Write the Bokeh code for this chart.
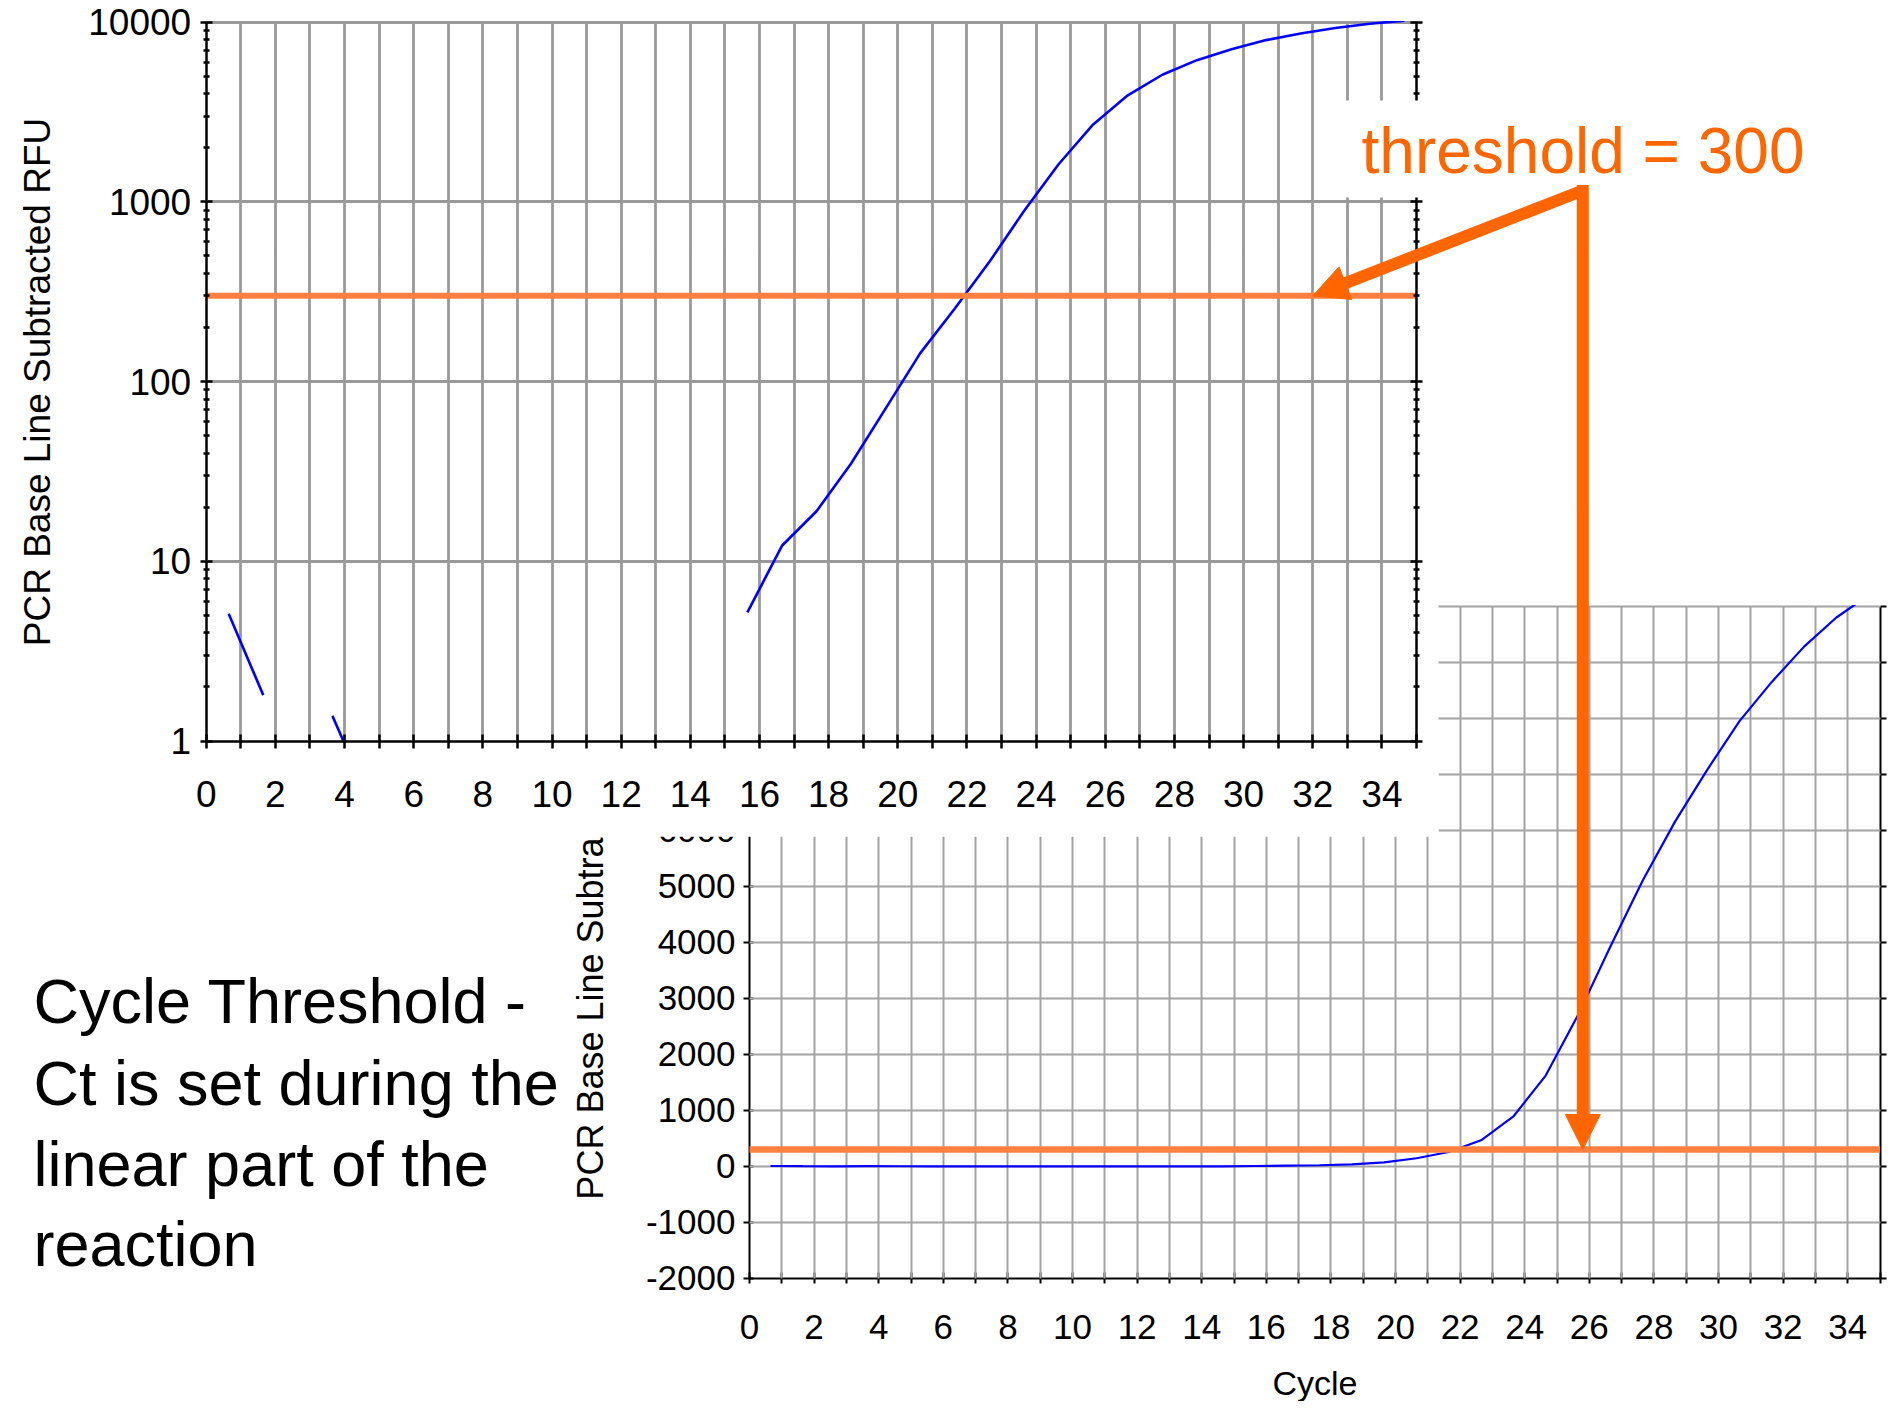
from bokeh.plotting import figure
from bokeh.models import (Range1d, LogScale, LinearAxis, LogAxis, FixedTicker, BasicTickFormatter,
                          CustomJSTickFormatter, Grid, Label, Arrow, NormalHead, BoxAnnotation)
from bokeh.embed import file_html
from bokeh.resources import INLINE

# ---------------- data ----------------
cycles = [0.65, 1.65, 2.65, 3.65, 4.65, 5.65, 6.65, 7.65, 8.65, 9.65,
          10.65, 11.65, 12.65, 13.65, 14.65, 15.65, 16.65, 17.65, 18.65, 19.65,
          20.65, 21.65, 22.65, 23.65, 24.65, 25.65, 26.65, 27.65, 28.65, 29.65,
          30.65, 31.65, 32.65, 33.65, 34.65]
rfu = [5.1, 1.8, -0.8, 1.38, 0.5, -0.6, -1.2, 0.3, -0.9, -1.5,
       -0.7, 0.4, -0.4, -1.0, -0.5, 5.2, 12.2, 19.0, 35.0, 71.0,
       144.0, 255.0, 464.0, 890.0, 1620.0, 2700.0, 3920.0, 5100.0, 6150.0, 7080.0,
       7950.0, 8650.0, 9280.0, 9800.0, 10200.0]
threshold_x = [0, 35]
threshold_y = [300, 300]

cycle_ticks = [0, 2, 4, 6, 8, 10, 12, 14, 16, 18, 20, 22, 24, 26, 28, 30, 32, 34]
cycle_minor = [1, 3, 5, 7, 9, 11, 13, 15, 17, 19, 21, 23, 25, 27, 29, 31, 33, 35]
cycle_grid = [1, 2, 3, 4, 5, 6, 7, 8, 9, 10, 11, 12, 13, 14, 15, 16, 17,
              18, 19, 20, 21, 22, 23, 24, 25, 26, 27, 28, 29, 30, 31, 32, 33, 34]
log_ticks = [1, 10, 100, 1000, 10000]
log_minor = [2, 3, 4, 5, 6, 7, 8, 9, 20, 30, 40, 50, 60, 70, 80, 90,
             200, 300, 400, 500, 600, 700, 800, 900,
             2000, 3000, 4000, 5000, 6000, 7000, 8000, 9000]
log_grid = [10, 100, 1000, 10000]
lin_ticks = [-2000, -1000, 0, 1000, 2000, 3000, 4000, 5000, 6000, 7000, 8000, 9000, 10000]
lin_labels = {-2000: "-2000", -1000: "-1000"}
lin_grid = [-1000, 0, 1000, 2000, 3000, 4000, 5000, 6000, 7000, 8000, 9000, 10000]

y_title = "PCR Base Line Subtracted RFU"
x_title = "Cycle"
note_lines = ["Cycle Threshold -", "Ct is set during the", "linear part of the", "reaction"]
threshold_text = "threshold = 300"

# ---------------- layout (page pixels) ----------------
W, H = 1887, 1401
M = 0
TOP_X0, TOP_PXC = 205.7, 34.58        # cycle 0 position, px per cycle
TOP_Y1, TOP_PXD = 740.5, 179.7        # value 1 position, px per decade
BOT_X0, BOT_PXC = 749.0, 32.3
BOT_Y0, BOT_PXU = 1165.8, 0.056       # value 0 position, px per unit

def tx(px): return (px - TOP_X0) / TOP_PXC
def ty(py): return 10 ** ((TOP_Y1 - py) / TOP_PXD)
def bx(px): return (px - BOT_X0) / BOT_PXC
def by(py): return (BOT_Y0 - py) / BOT_PXU

FONT = "Liberation Sans"
BLUE = "#0000FF"
THR = "#FF8040"
ORANGE = "#FF6600"
MID = 0.3465   # distance baseline -> middle of em box, in em

p = figure(width=W, height=H, x_range=Range1d(M, M + W), y_range=Range1d(M + H, M),
           x_axis_type=None, y_axis_type=None, toolbar_location=None, output_backend="svg",
           min_border=0, min_border_left=0, min_border_right=0, min_border_top=0, min_border_bottom=0,
           outline_line_color=None, background_fill_color="white", border_fill_color="white")
p.extra_x_ranges = {"tx": Range1d(tx(M), tx(M + W)), "bx": Range1d(bx(M), bx(M + W))}
p.extra_y_ranges = {"ty": Range1d(ty(M + H), ty(M)), "by": Range1d(by(M + H), by(M))}
p.extra_y_scales = {"ty": LogScale()}

# ---------- bottom (linear) chart: grids + axes at "image" level ----------
p.add_layout(Grid(dimension=0, ticker=FixedTicker(ticks=cycle_grid), x_range_name="bx", y_range_name="by",
                  cross_bounds=(-2000, 10000), grid_line_color="#a3a3a3", grid_line_width=2, level="image"))
p.add_layout(Grid(dimension=1, ticker=FixedTicker(ticks=lin_grid), x_range_name="bx", y_range_name="by",
                  cross_bounds=(0, 35), grid_line_color="#a3a3a3", grid_line_width=2, level="image"))

def style_axis(ax, size, lw):
    ax.axis_line_color = "black"
    ax.axis_line_width = lw
    ax.major_tick_line_color = "black"
    ax.major_tick_line_width = lw
    ax.minor_tick_line_color = "black"
    ax.minor_tick_line_width = lw
    ax.major_label_text_font = FONT
    ax.major_label_text_font_size = size
    ax.major_label_text_color = "black"
    ax.axis_label_text_font = FONT
    ax.axis_label_text_font_style = "normal"
    ax.axis_label_text_color = "black"

bl = LinearAxis(x_range_name="bx", y_range_name="by", fixed_location=0, bounds=(-2000, 10000),
                ticker=FixedTicker(ticks=lin_ticks), formatter=BasicTickFormatter(),
                major_label_overrides=lin_labels, axis_label=y_title, level="image")
style_axis(bl, "35px", 2)
bl.major_tick_in, bl.major_tick_out = 4, 6
bl.major_label_standoff = 8
bl.axis_label_text_font_size = "36px"
bl.axis_label_standoff = 24
p.add_layout(bl, "left")

bb = LinearAxis(x_range_name="bx", y_range_name="by", fixed_location=-2000, bounds=(0, 35),
                ticker=FixedTicker(ticks=cycle_ticks, minor_ticks=cycle_minor), formatter=BasicTickFormatter(),
                axis_label=x_title, level="image")
style_axis(bb, "35px", 2)
bb.major_tick_in, bb.major_tick_out = 6, 5
bb.minor_tick_in, bb.minor_tick_out = 6, 5
bb.major_label_standoff = 32
bb.axis_label_text_font_size = "34px"
bb.axis_label_standoff = 21
p.add_layout(bb, "below")

br = LinearAxis(x_range_name="bx", y_range_name="by", fixed_location=35, bounds=(-2000, 10000),
                ticker=FixedTicker(ticks=lin_ticks), formatter=CustomJSTickFormatter(code="return ''"),
                level="image")
style_axis(br, "10px", 2)
br.major_tick_in, br.major_tick_out = 0, 6
p.add_layout(br, "right")

# ---------- top chart panel (covers the lower chart) ----------
p.quad(left=[0], right=[1438], top=[0], bottom=[836], fill_color="white", line_color=None, level="underlay")

# ---------- top (log) chart grids ----------
p.add_layout(Grid(dimension=0, ticker=FixedTicker(ticks=cycle_grid), x_range_name="tx", y_range_name="ty",
                  cross_bounds=(1, 10000), grid_line_color="#999999", grid_line_width=2.8, level="glyph"))
p.add_layout(Grid(dimension=1, ticker=FixedTicker(ticks=log_grid), x_range_name="tx", y_range_name="ty",
                  cross_bounds=(0, 35), grid_line_color="#999999", grid_line_width=2.8, level="glyph"))

# ---------- data lines ----------
p.line(cycles, rfu, x_range_name="tx", y_range_name="ty", line_color=BLUE, line_width=2.6, level="guide")
p.line(threshold_x, threshold_y, x_range_name="tx", y_range_name="ty", line_color=THR, line_width=6, level="guide")
p.line(cycles, rfu, x_range_name="bx", y_range_name="by", line_color=BLUE, line_width=2.2, level="guide")
p.line(threshold_x, threshold_y, x_range_name="bx", y_range_name="by", line_color=THR, line_width=6.5, level="guide")

# masks that clip each chart to its own plotting area
p.quad(left=[0], right=[1438], top=[742], bottom=[836], fill_color="white", line_color=None, level="guide")
p.quad(left=[0], right=[1438], top=[0], bottom=[20.4], fill_color="white", line_color=None, level="guide")
p.quad(left=[1438], right=[1900], top=[0], bottom=[604.6], fill_color="white", line_color=None, level="guide")

# ---------- top chart axes ----------
tl = LogAxis(x_range_name="tx", y_range_name="ty", fixed_location=0, bounds=(1, 10000),
             ticker=FixedTicker(ticks=log_ticks, minor_ticks=log_minor), formatter=BasicTickFormatter(),
             axis_label=y_title, level="annotation")
style_axis(tl, "37px", 2.5)
tl.major_tick_in, tl.major_tick_out = 6, 6
tl.minor_tick_in, tl.minor_tick_out = 3, 3
tl.major_label_standoff = 9
tl.axis_label_text_font_size = "37px"
tl.axis_label_standoff = 28
p.add_layout(tl, "left")

tb = LinearAxis(x_range_name="tx", y_range_name="ty", fixed_location=1, bounds=(0, 35),
                ticker=FixedTicker(ticks=cycle_ticks, minor_ticks=cycle_minor), formatter=BasicTickFormatter(),
                level="annotation")
style_axis(tb, "37px", 2.5)
tb.major_tick_in, tb.major_tick_out = 7, 7
tb.minor_tick_in, tb.minor_tick_out = 7, 7
tb.major_label_standoff = 33
p.add_layout(tb, "below")

tr = LogAxis(x_range_name="tx", y_range_name="ty", fixed_location=35, bounds=(1, 10000),
             ticker=FixedTicker(ticks=log_ticks, minor_ticks=log_minor),
             formatter=CustomJSTickFormatter(code="return ''"), level="annotation")
style_axis(tr, "10px", 2.5)
tr.major_tick_in, tr.major_tick_out = 6, 6
tr.minor_tick_in, tr.minor_tick_out = 3, 3
p.add_layout(tr, "right")

# ---------- annotations ----------
p.add_layout(BoxAnnotation(left=1330, right=1900, top=100, bottom=197, fill_color="white", fill_alpha=1.0,
                           line_color=None, level="overlay"))
THR_SIZE = 64
p.add_layout(Label(x=1361, y=172.5 - MID * THR_SIZE, text=threshold_text, text_font=FONT,
                   text_font_size=f"{THR_SIZE}px", text_color=ORANGE, text_baseline="middle",
                   text_align="left", level="overlay"))

NOTE_SIZE = 63
for txt, base in zip(note_lines, [1022, 1104, 1185, 1265]):
    p.add_layout(Label(x=33, y=base - MID * NOTE_SIZE, text=txt, text_font=FONT,
                       text_font_size=f"{NOTE_SIZE}px", text_color="black",
                       text_baseline="middle", text_align="left", level="overlay"))

CORNER_X, CORNER_Y = 1582.3, 190
p.add_layout(Arrow(x_start=bx(CORNER_X), y_start=by(CORNER_Y - 5.5), x_end=25.8, y_end=300,
                   x_range_name="bx", y_range_name="by", line_color=ORANGE, line_width=12,
                   end=NormalHead(size=35, fill_color=ORANGE, line_color=ORANGE, line_width=1),
                   level="overlay"))
p.add_layout(Arrow(x_start=tx(CORNER_X), y_start=ty(CORNER_Y), x_end=32, y_end=300,
                   x_range_name="tx", y_range_name="ty", line_color=ORANGE, line_width=12,
                   end=NormalHead(size=35, fill_color=ORANGE, line_color=ORANGE, line_width=1),
                   level="overlay"))

open("out.html", "w").write(file_html(p, INLINE))
